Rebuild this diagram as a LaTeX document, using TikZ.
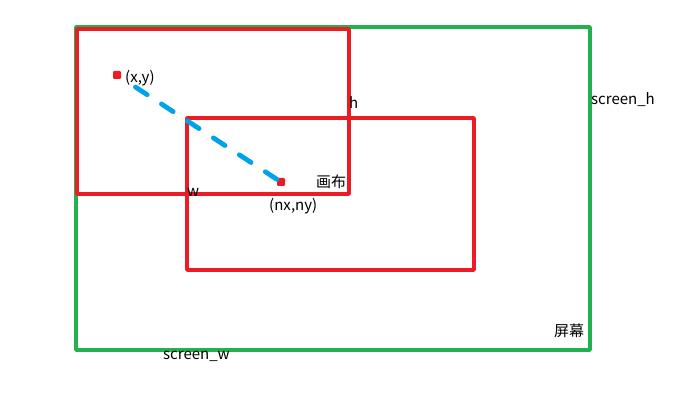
\documentclass[tikz,border=0pt]{standalone}
\usepackage{fontspec}
\usetikzlibrary{calc}
\setmainfont{Noto Sans CJK SC}
\definecolor{scrgreen}{HTML}{22B14C}
\definecolor{cvred}{HTML}{ED1C24}
\definecolor{lnblue}{HTML}{00A2E8}
\begin{document}
\begin{tikzpicture}[x=1pt,y=-1pt,
  frame/.style={line width=3.4pt,line join=round},
  lbl/.style={inner sep=0pt,font=\fontsize{15}{16}\selectfont,anchor=west},
  pt/.style={fill=cvred,minimum size=8pt,inner sep=0pt,rounded corners=1.2pt}]
\useasboundingbox (0,0) rectangle (697,417);
\fill[white] (0,0) rectangle (697,417);
% screen
\draw[frame,scrgreen] (76,27) rectangle (590,350);
% canvases
\draw[frame,cvred] (77,29) rectangle (349,194);
\draw[frame,cvred] (187,118) rectangle (474,270);
% points
\node[pt] (p1) at (117,75) {};
\node[pt] (p2) at (281,182) {};
\coordinate (s) at ($(p2.center)+(-4,-2.6)$);
\coordinate (e) at ($(p1.center)!0.1!(p2.center)$);
\draw[lnblue,line width=4.8pt,line cap=round,dash pattern=on 14pt off 17pt] (s) -- (e);
% labels
\node[lbl] (lxy) at (125,78) {(x,y)};
\node[lbl] (lh) at (349,103) {h};
\node[lbl] (lw) at (187,192) {w};
\node[lbl] (lcanvas) at (316,182) {画布};
\node[lbl] (lnxny) at (269,206) {(nx,ny)};
\node[lbl] (lsh) at (591,100) {screen\_h};
\node[lbl] (lscreen) at (554,331) {屏幕};
\node[lbl] (lsw) at (163,356) {screen\_w};
\end{tikzpicture}
\end{document}
